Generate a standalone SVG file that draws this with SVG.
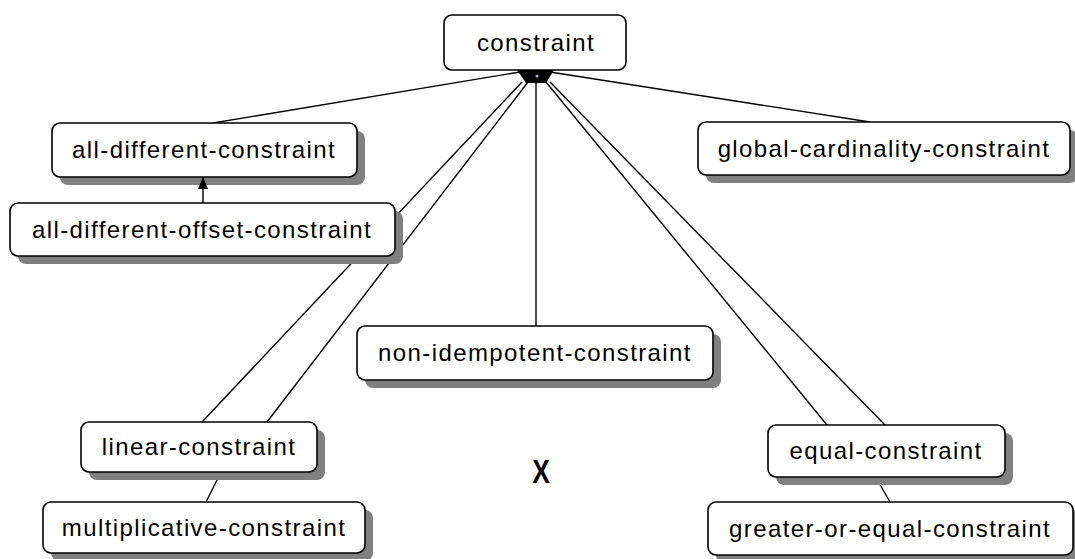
<svg xmlns="http://www.w3.org/2000/svg" width="1075" height="559" viewBox="0 0 1075 559">
  <style>
    .box { fill: #ffffff; stroke: #000000; stroke-width: 1.6; }
    .shadow { fill: #808080; }
    .label { font-family: "Liberation Sans", Arial, sans-serif; font-size: 24px; letter-spacing: 1.4px; fill: #000000; text-anchor: middle; }
    .link { stroke: #000000; stroke-width: 1.4; fill: none; }
  </style>
  <defs>
    <marker id="tri" markerWidth="12" markerHeight="10" refX="12" refY="5" orient="auto" markerUnits="userSpaceOnUse">
      <path d="M0,0 L12,5 L0,10 Z" fill="#000000"/>
    </marker>
  </defs>
  <rect width="1075" height="559" fill="#ffffff"/>

  <g id="connectors">
    <line class="link" x1="520" y1="72" x2="213" y2="123"/>
    <line class="link" x1="550" y1="72" x2="870" y2="122"/>
    <line class="link" x1="522" y1="82" x2="202" y2="422"/>
    <line class="link" x1="528" y1="82" x2="267" y2="422"/>
    <line class="link" x1="536" y1="82" x2="536" y2="326"/>
    <line class="link" x1="546" y1="82" x2="827" y2="425"/>
    <line class="link" x1="550" y1="82" x2="885" y2="425"/>
    <line class="link" x1="222" y1="470" x2="206" y2="502"/>
    <line class="link" x1="874" y1="474" x2="890" y2="502"/>
    <!-- aggregation hub under the root node -->
    <polygon points="517,70 554,70 546,83 526,83" fill="#000000"/>
    <circle cx="537" cy="76" r="1.5" fill="#9fb4d0"/>
  </g>

  <g id="n-constraint">
    <rect class="box" x="444" y="15" width="182" height="55" rx="8"/>
    <text class="label" x="536" y="51">constraint</text>
  </g>

  <g id="n-all-different">
    <rect class="shadow" x="60" y="131" width="305" height="54" rx="8"/>
    <rect class="box" x="52" y="123" width="305" height="54" rx="8"/>
    <text class="label" x="204" y="158">all-different-constraint</text>
  </g>

  <g id="n-all-different-offset">
    <rect class="shadow" x="18" y="211" width="385" height="53" rx="8"/>
    <rect class="box" x="10" y="203" width="385" height="53" rx="8"/>
    <text class="label" x="202" y="238">all-different-offset-constraint</text>
  </g>

  <g id="n-global-cardinality">
    <rect class="shadow" x="706" y="130" width="372" height="53" rx="8"/>
    <rect class="box" x="698" y="122" width="372" height="53" rx="8"/>
    <text class="label" x="884" y="157">global-cardinality-constraint</text>
  </g>

  <g id="n-non-idempotent">
    <rect class="shadow" x="365" y="334" width="356" height="54" rx="8"/>
    <rect class="box" x="357" y="326" width="356" height="54" rx="8"/>
    <text class="label" x="535" y="361">non-idempotent-constraint</text>
  </g>

  <g id="n-linear">
    <rect class="shadow" x="89" y="430" width="236" height="50" rx="8"/>
    <rect class="box" x="81" y="422" width="236" height="50" rx="8"/>
    <text class="label" x="199" y="455">linear-constraint</text>
  </g>

  <g id="n-multiplicative">
    <rect class="shadow" x="51" y="510" width="322" height="51" rx="8"/>
    <rect class="box" x="43" y="502" width="322" height="51" rx="8"/>
    <text class="label" x="204" y="536">multiplicative-constraint</text>
  </g>

  <g id="n-equal">
    <rect class="shadow" x="776" y="433" width="237" height="52" rx="8"/>
    <rect class="box" x="768" y="425" width="237" height="52" rx="8"/>
    <text class="label" x="886" y="459">equal-constraint</text>
  </g>

  <g id="n-greater-or-equal">
    <rect class="shadow" x="716" y="510" width="365" height="53" rx="8"/>
    <rect class="box" x="708" y="502" width="365" height="53" rx="8"/>
    <text class="label" x="890" y="537">greater-or-equal-constraint</text>
  </g>

  <!-- inheritance arrow drawn over the parent's shadow -->
  <g id="connectors-over">
    <line class="link" x1="203" y1="203" x2="203" y2="177" marker-end="url(#tri)"/>
  </g>

  <text x="541" y="483" font-family="Liberation Sans, Arial, sans-serif" font-size="33" font-weight="bold" text-anchor="middle" transform="translate(541 0) scale(0.8 1) translate(-541 0)">X</text>
</svg>
